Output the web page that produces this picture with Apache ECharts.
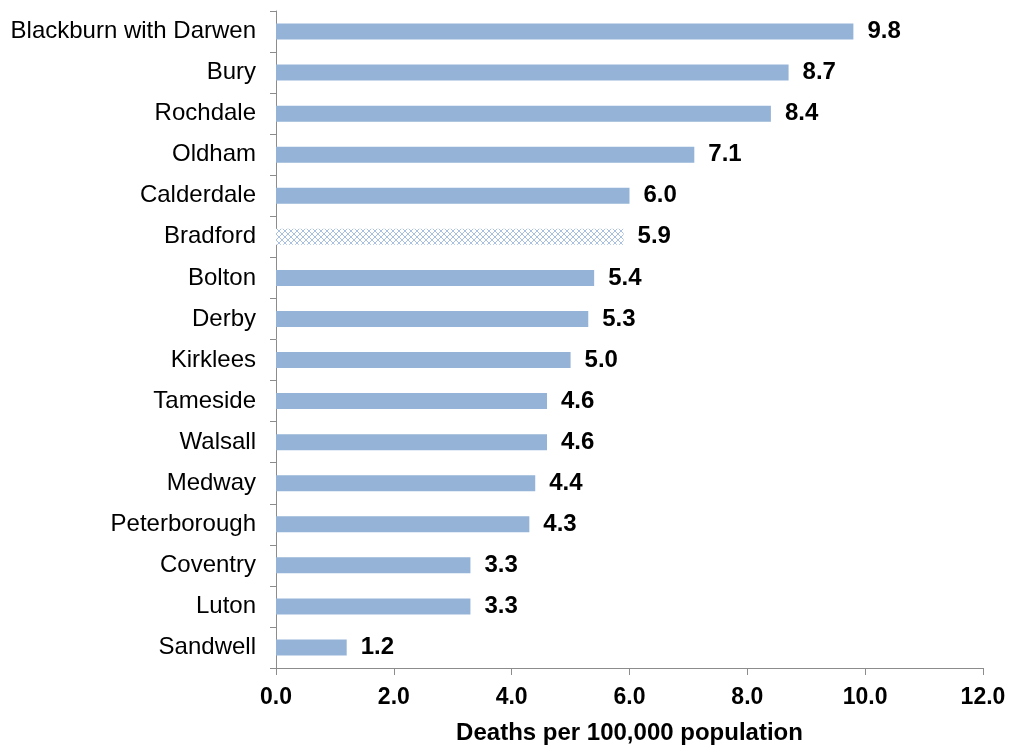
<!DOCTYPE html>
<html><head><meta charset="utf-8">
<script src="https://cdn.jsdelivr.net/npm/echarts@6/dist/echarts.min.js"></script>
<style>html,body{margin:0;padding:0;background:#fff}#c{width:1011px;height:745px}</style>
</head><body><div id="c"></div>
<script>
const categories = ["Blackburn with Darwen","Bury","Rochdale","Oldham","Calderdale","Bradford","Bolton","Derby","Kirklees","Tameside","Walsall","Medway","Peterborough","Coventry","Luton","Sandwell"];
const values = [9.8,8.7,8.4,7.1,6.0,5.9,5.4,5.3,5.0,4.6,4.6,4.4,4.3,3.3,3.3,1.2];
const highlighted = ["Bradford"];
const xTicks = [0,2,4,6,8,10,12];

function hatch(){
  const c = document.createElement('canvas');
  c.width = 6; c.height = 6;
  const g = c.getContext('2d');
  g.fillStyle = '#ffffff'; g.fillRect(0,0,6,6);
  g.strokeStyle = '#a9c0de'; g.lineWidth = 1;
  g.beginPath(); g.moveTo(0,0); g.lineTo(6,6); g.moveTo(6,0); g.lineTo(0,6); g.stroke();
  return {image: c, repeat: 'repeat'};
}
const pat = hatch();
const font = "'Liberation Sans', Arial, sans-serif";
const chart = echarts.init(document.getElementById('c'), null, {renderer:'canvas'});
chart.setOption({
  animation:false,
  grid:{left:276,right:28,top:11,bottom:77,containLabel:false,outerBoundsMode:'none'},
  xAxis:{type:'value',min:xTicks[0],max:xTicks[xTicks.length-1],interval:2,
    axisLine:{show:true,lineStyle:{color:'#8c8c8c',width:1}},
    axisTick:{show:true,length:7,lineStyle:{color:'#8c8c8c'}},
    splitLine:{show:false},
    axisLabel:{formatter:v=>v.toFixed(1),fontFamily:font,fontSize:23,fontWeight:'bold',color:'#000',margin:18},
    name:'Deaths per 100,000 population',nameLocation:'middle',nameGap:53,
    nameTextStyle:{fontFamily:font,fontSize:24,fontWeight:'bold',color:'#000'}},
  yAxis:{type:'category',data:categories,inverse:true,
    axisLine:{show:true,lineStyle:{color:'#8c8c8c',width:1}},
    axisTick:{show:true,length:6,lineStyle:{color:'#8c8c8c'}},
    axisLabel:{fontFamily:font,fontSize:24,color:'#000',margin:20,padding:[2,0,0,0]}},
  series:[{type:'bar',barWidth:16,
    data:values.map((v,i)=>({value:v,itemStyle:{color:highlighted.includes(categories[i])?pat:'#95b3d7'}})),
    label:{show:true,position:'right',distance:14,formatter:p=>p.value.toFixed(1),
      fontFamily:font,fontSize:24,fontWeight:'bold',color:'#000',padding:[2,0,0,0]}}]
});
</script></body></html>
